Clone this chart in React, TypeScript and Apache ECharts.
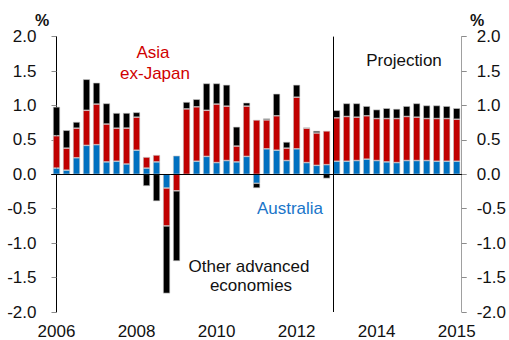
import React, { useEffect, useRef } from "react";
import * as echarts from "echarts";

const quarters: string[] = [];
for (let y = 2006; y <= 2016; y++) {
  for (let q = 1; q <= 4; q++) {
    if (quarters.length < 41) quarters.push(`${y} Q${q}`);
  }
}
const tickLabels = ["2006", "2008", "2010", "2012", "2014", "2015"];

const australia = [
  0.09, 0.06, 0.24, 0.42, 0.43, 0.18, 0.19, 0.15, 0.35, 0.09, 0.18, -0.2, 0.27, 0.0,
  0.19, 0.26, 0.17, 0.2, 0.18, 0.26, -0.13, 0.37, 0.35, 0.2, 0.37, 0.17, 0.13, 0.14,
  0.19, 0.19, 0.2, 0.22, 0.2, 0.18, 0.17, 0.2, 0.2, 0.2, 0.19, 0.19, 0.19,
];
const asiaExJapan = [
  0.47, 0.32, 0.43, 0.51, 0.59, 0.55, 0.48, 0.52, 0.48, 0.16, 0.1, -0.55, -0.24, 0.95,
  0.79, 0.67, 0.85, 0.79, 0.23, 0.73, 0.79, 0.42, 0.5, 0.18, 0.75, 0.5, 0.47, 0.49,
  0.63, 0.65, 0.63, 0.63, 0.61, 0.63, 0.64, 0.64, 0.63, 0.61, 0.62, 0.62, 0.61,
];
const otherAdvanced = [
  0.42, 0.26, 0.09, 0.45, 0.31, 0.3, 0.22, 0.22, 0.07, -0.17, -0.39, -0.98, -1.02, 0.1,
  0.11, 0.39, 0.3, 0.31, 0.28, 0.05, -0.07, 0.02, 0.32, 0.09, 0.18, 0.01, 0.03, -0.06,
  0.11, 0.19, 0.2, 0.14, 0.13, 0.15, 0.14, 0.15, 0.2, 0.19, 0.19, 0.18, 0.16,
];
const projectionStart = 27.7;

const BLUE = "#0070c0";
const RED = "#c00000";
const FONT = "Arial, 'Liberation Sans', sans-serif";

export default function App() {
  const ref = useRef<HTMLDivElement>(null);
  useEffect(() => {
    document.body.style.margin = "0";
    const chart = echarts.init(ref.current!, null, { renderer: "svg" });
    const barStyle = (color: string) => ({
      color,
      borderColor: "#c8c8c8",
      borderWidth: 0.6,
    });
    const yAxisCommon = {
      type: "value",
      min: -2,
      max: 2,
      interval: 0.5,
      splitLine: { show: false },
      axisTick: { show: true, length: 5, lineStyle: { color: "#8c8c8c" } },
      axisLabel: {
        margin: 15,
        fontSize: 17,
        color: "#111",
        fontFamily: FONT,
        formatter: (v: number) => v.toFixed(1),
      },
    };
    chart.setOption({
      animation: false,
      grid: { left: 51.5, right: 42, top: 36.6, bottom: 26.6, containLabel: false },
      xAxis: [
        {
          type: "category",
          data: quarters,
          axisTick: { show: false },
          axisLine: { lineStyle: { color: "#000", width: 1 } },
          axisLabel: {
            interval: 7,
            margin: 11,
            fontSize: 17,
            color: "#111",
            fontFamily: FONT,
            formatter: (_v: string, i: number) => tickLabels[Math.round(i / 8)] ?? "",
          },
        },
        { type: "value", min: -0.5, max: 40.5, show: false },
      ],
      yAxis: [
        {
          ...yAxisCommon,
          position: "left",
          axisLine: { show: true, lineStyle: { color: "#000", width: 1 } },
        },
        {
          ...yAxisCommon,
          position: "right",
          axisLine: { show: true, lineStyle: { color: "#a0a0a0", width: 1 } },
        },
      ],
      series: [
        {
          name: "Australia",
          type: "bar",
          stack: "total",
          data: australia,
          barWidth: 7,
          itemStyle: barStyle(BLUE),
          markLine: {
            silent: true,
            symbol: "none",
            label: { show: false },
            lineStyle: { color: "#000", width: 1, type: "solid" },
            data: [{ yAxis: 0 }],
          },
        },
        {
          name: "Asia ex-Japan",
          type: "bar",
          stack: "total",
          data: asiaExJapan,
          barWidth: 7,
          itemStyle: barStyle(RED),
        },
        {
          name: "Other advanced economies",
          type: "bar",
          stack: "total",
          data: otherAdvanced,
          barWidth: 7,
          itemStyle: barStyle("#000"),
        },
        {
          type: "line",
          xAxisIndex: 1,
          yAxisIndex: 0,
          data: [[projectionStart, 0]],
          showSymbol: false,
          lineStyle: { width: 0 },
          markLine: {
            silent: true,
            symbol: "none",
            label: { show: false },
            lineStyle: { color: "#000", width: 1, type: "solid" },
            data: [{ xAxis: projectionStart }],
          },
        },
      ],
      graphic: [
        { type: "text", left: 35, top: 12, style: { text: "%", fontSize: 16, fontWeight: "bold", fill: "#111", fontFamily: FONT } },
        { type: "text", left: 470, top: 12, style: { text: "%", fontSize: 16, fontWeight: "bold", fill: "#111", fontFamily: FONT } },
        { type: "text", x: 153, y: 52, style: { text: "Asia", fontSize: 17, fill: "#d00000", fontFamily: FONT, textAlign: "center", textVerticalAlign: "middle" } },
        { type: "text", x: 155, y: 73, style: { text: "ex-Japan", fontSize: 17, fill: "#d00000", fontFamily: FONT, textAlign: "center", textVerticalAlign: "middle" } },
        { type: "text", x: 404, y: 60, style: { text: "Projection", fontSize: 17, fill: "#111", fontFamily: FONT, textAlign: "center", textVerticalAlign: "middle" } },
        { type: "text", x: 290, y: 208, style: { text: "Australia", fontSize: 17, fill: "#1a75c9", fontFamily: FONT, textAlign: "center", textVerticalAlign: "middle" } },
        { type: "text", x: 249, y: 266, style: { text: "Other advanced", fontSize: 17, fill: "#111", fontFamily: FONT, textAlign: "center", textVerticalAlign: "middle" } },
        { type: "text", x: 251, y: 285, style: { text: "economies", fontSize: 17, fill: "#111", fontFamily: FONT, textAlign: "center", textVerticalAlign: "middle" } },
      ],
    });
    return () => chart.dispose();
  }, []);
  return <div ref={ref} style={{ width: 509, height: 340 }} />;
}
